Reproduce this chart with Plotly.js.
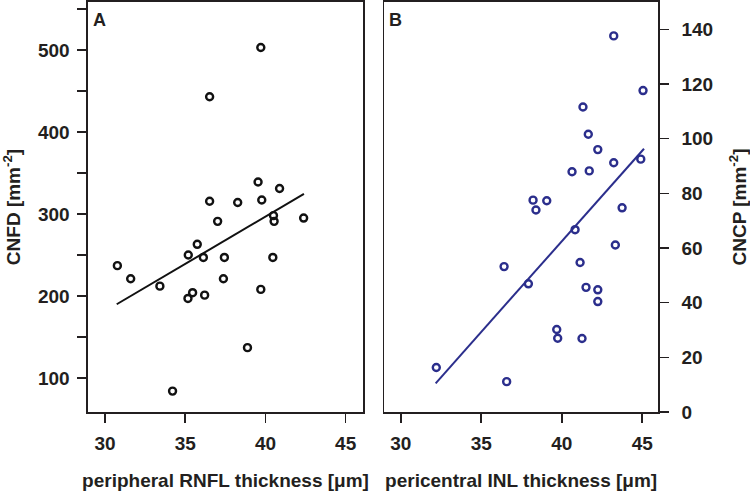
<!DOCTYPE html>
<html>
<head>
<meta charset="utf-8">
<script src="https://cdn.plot.ly/plotly-3.0.1.min.js"></script>
<style>html,body{margin:0;padding:0;background:#fff;}#chart{width:750px;height:492px;}</style>
</head>
<body>
<div id="chart"></div>
<script>
// Panel A: peripheral RNFL thickness vs CNFD
const rnflThickness = [39.71, 36.52, 39.54, 40.88, 36.52, 38.27, 39.77, 40.50, 40.54, 42.38, 37.02, 35.75, 30.77,
  31.60, 33.42, 35.19, 36.13, 37.44, 40.46, 37.38, 35.46, 35.17, 36.21, 39.71, 38.88, 34.21];
const cnfd = [503, 443, 339, 331, 315.5, 314, 317, 298, 291, 295, 291, 263, 237,
  221, 212, 250, 247, 247, 247, 221, 204, 197, 201, 208, 137, 84];
const fitA_x = [30.73, 42.40];
const fitA_y = [189.9, 324.4];

// Panel B: pericentral INL thickness vs CNCP
const inlThickness = [43.23, 45.05, 41.32, 41.65, 42.24, 43.23, 44.91, 40.64, 41.71, 38.22, 39.07, 38.40, 43.75,
  40.83, 43.33, 36.42, 41.14, 37.93, 41.51, 42.24, 42.24, 39.69, 39.75, 41.26, 32.21, 36.58];
const cncp = [137.6, 117.6, 111.6, 101.6, 96.0, 91.2, 92.5, 87.9, 88.2, 77.5, 77.3, 73.9, 74.7,
  66.7, 61.1, 53.2, 54.7, 46.9, 45.6, 44.7, 40.4, 30.2, 27.0, 26.9, 16.3, 11.1];
const fitB_x = [32.17, 45.11];
const fitB_y = [10.5, 96.3];

// Tick labels
const xTicks = [30, 35, 40, 45];
const xTickText = ['30', '35', '40', '45'];
const yTicksA = [100, 150, 200, 250, 300, 350, 400, 450, 500, 550];
const yTickTextA = ['100', '', '200', '', '300', '', '400', '', '500', ''];
const yTicksB = [0, 20, 40, 60, 80, 100, 120, 140];
const yTickTextB = ['0', '20', '40', '60', '80', '100', '120', '140'];

const bold = arr => arr.map(s => s ? '<b>' + s + '</b>' : '');
const blue = '#2b2e8c';
const fnt = {family: 'Liberation Sans, Arial, Helvetica, sans-serif', size: 19, color: '#231f20', weight: 700};
const fntLetter = Object.assign({}, fnt, {size: 18});

const traces = [
  {x: rnflThickness, y: cnfd, xaxis: 'x', yaxis: 'y', mode: 'markers', type: 'scatter',
   marker: {symbol: 'circle-open', size: 7, color: '#111', line: {width: 2.4, color: '#111'}}, name: 'A'},
  {x: fitA_x, y: fitA_y, xaxis: 'x', yaxis: 'y', mode: 'lines', type: 'scatter',
   line: {color: '#111', width: 2}, name: 'fit A'},
  {x: inlThickness, y: cncp, xaxis: 'x2', yaxis: 'y2', mode: 'markers', type: 'scatter',
   marker: {symbol: 'circle-open', size: 7, color: blue, line: {width: 2.4, color: blue}}, name: 'B'},
  {x: fitB_x, y: fitB_y, xaxis: 'x2', yaxis: 'y2', mode: 'lines', type: 'scatter',
   line: {color: blue, width: 2}, name: 'fit B'}
];

const yDom = [1 - 412/492, 1 - 2/492];
const axCommon = {showgrid: false, zeroline: false, showline: true, linecolor: '#231f20', linewidth: 1.6,
  ticks: 'outside', ticklen: 9, tickwidth: 1.6, tickcolor: '#231f20', tickfont: fnt, mirror: true};

const layout = {
  width: 750, height: 492,
  margin: {l: 0, r: 0, t: 0, b: 0},
  paper_bgcolor: '#fff', plot_bgcolor: '#fff',
  showlegend: false,
  xaxis: Object.assign({}, axCommon, {domain: [88/750, 363/750], range: [28.94, 46.08], anchor: 'y',
    tickvals: xTicks, ticktext: bold(xTickText), ticklabelstandoff: 5,
    title: {text: '<b>peripheral RNFL thickness [μm]</b>', font: fnt, standoff: 20}}),
  yaxis: Object.assign({}, axCommon, {domain: yDom, range: [58.5, 558.5], anchor: 'x',
    tickvals: yTicksA, ticktext: bold(yTickTextA), ticklabelstandoff: 4,
    title: {text: '<b>CNFD [mm<sup>-2</sup>]</b>', font: fnt, standoff: 14}}),
  xaxis2: Object.assign({}, axCommon, {domain: [384.3/750, 658/750], range: [28.98, 45.98], anchor: 'y2',
    tickvals: xTicks, ticktext: bold(xTickText), ticklabelstandoff: 5,
    title: {text: '<b>pericentral INL thickness [μm]</b>', font: fnt, standoff: 20}}),
  yaxis2: Object.assign({}, axCommon, {domain: yDom, range: [0, 150], anchor: 'x2', side: 'right',
    tickvals: yTicksB, ticktext: bold(yTickTextB), ticklabelstandoff: 9,
    title: {text: '<b>CNCP [mm<sup>-2</sup>]</b>', font: fnt, standoff: 28}}),
  annotations: [
    {text: '<b>A</b>', xref: 'x domain', yref: 'y domain', x: 0.01, y: 0.985, xanchor: 'left', yanchor: 'top', showarrow: false, font: fntLetter},
    {text: '<b>B</b>', xref: 'x2 domain', yref: 'y2 domain', x: 0.01, y: 0.985, xanchor: 'left', yanchor: 'top', showarrow: false, font: fntLetter}
  ]
};

Plotly.newPlot('chart', traces, layout, {displayModeBar: false, staticPlot: true});
</script>
</body>
</html>
